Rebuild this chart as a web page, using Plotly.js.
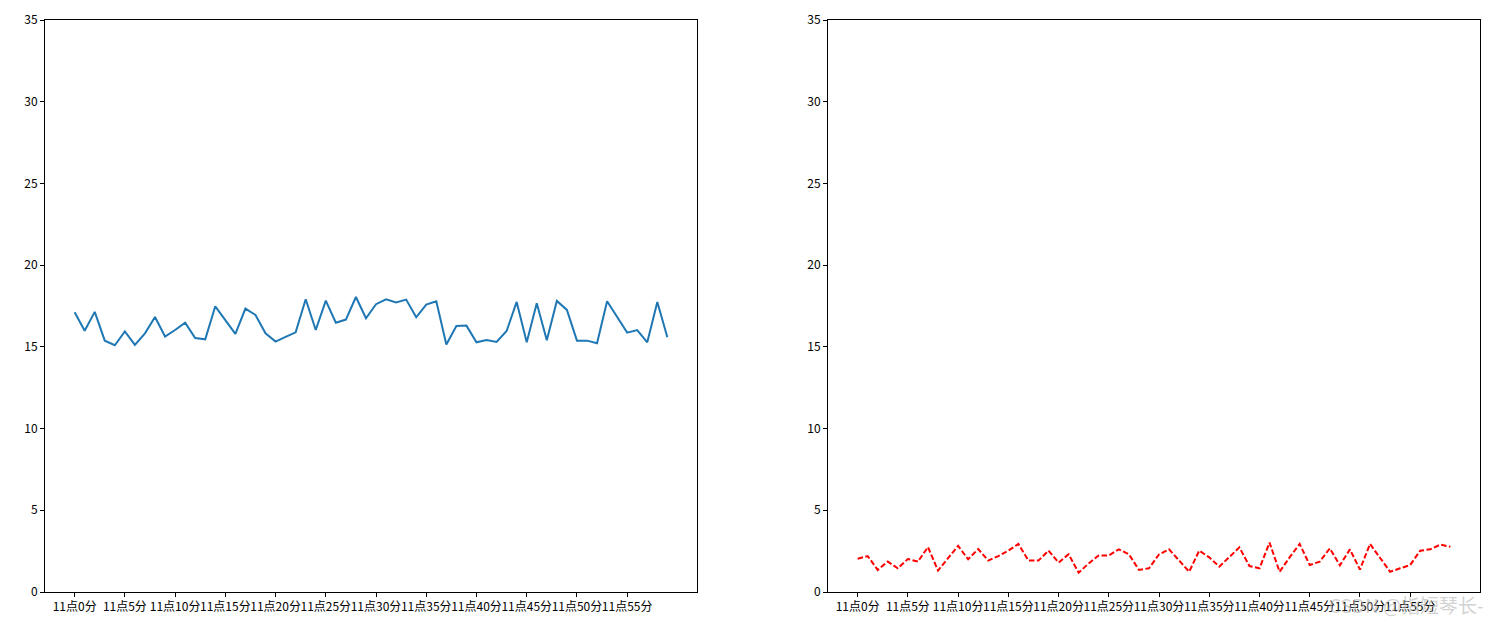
<!DOCTYPE html>
<html>
<head>
<meta charset="utf-8">
<script src="https://cdn.plot.ly/plotly-3.0.1.min.js"></script>
<style>html,body{margin:0;padding:0;background:#fff;}#chart{width:1499px;height:622px;}</style>
</head>
<body>
<div id="chart"></div>
<script>
// minute index 0..59 (11点0分 ... 11点59分)
const minutes = [0,1,2,3,4,5,6,7,8,9,10,11,12,13,14,15,16,17,18,19,20,21,22,23,24,25,26,27,28,29,
                 30,31,32,33,34,35,36,37,38,39,40,41,42,43,44,45,46,47,48,49,50,51,52,53,54,55,56,57,58,59];
const tickVals = [0,5,10,15,20,25,30,35,40,45,50,55];
const tickLabels = ["11点0分","11点5分","11点10分","11点15分","11点20分","11点25分","11点30分","11点35分","11点40分","11点45分","11点50分","11点55分"];
const seriesA = [17.12,15.99,17.14,15.38,15.10,15.95,15.12,15.83,16.83,15.63,
                 16.03,16.48,15.54,15.46,17.48,16.61,15.79,17.34,16.95,15.83,
                 15.32,15.61,15.89,17.91,16.03,17.83,16.48,16.67,18.05,16.75,
                 17.61,17.91,17.71,17.89,16.81,17.59,17.79,15.14,16.28,16.30,
                 15.28,15.42,15.30,15.97,17.75,15.28,17.67,15.40,17.81,17.26,
                 15.38,15.38,15.22,17.79,16.79,15.87,16.03,15.28,17.75,15.59];
const seriesB = [2.04,2.20,1.35,1.86,1.45,2.02,1.86,2.75,1.31,2.07,
                 2.82,2.00,2.63,1.92,2.20,2.53,2.94,1.92,1.92,2.53,
                 1.80,2.31,1.18,1.75,2.24,2.24,2.61,2.31,1.35,1.45,
                 2.30,2.61,1.92,1.24,2.53,2.12,1.55,2.12,2.73,1.59,
                 1.45,3.02,1.24,2.12,2.94,1.65,1.86,2.67,1.63,2.61,
                 1.37,2.94,2.10,1.24,1.45,1.65,2.53,2.61,2.90,2.77];
const yTicks = [0,5,10,15,20,25,30,35];

const font = {family: '"Noto Sans CJK SC", "DejaVu Sans", sans-serif', size: 12, color: '#000'};

const traces = [
  {x: minutes, y: seriesA, type: 'scatter', mode: 'lines', xaxis: 'x', yaxis: 'y',
   line: {color: '#1f77b4', width: 2}, hoverinfo: 'none'},
  {x: minutes, y: seriesB, type: 'scatter', mode: 'lines', xaxis: 'x2', yaxis: 'y2',
   line: {color: '#ff0000', width: 2, dash: '5.5px,2.4px'}, hoverinfo: 'none'}
];

function xax(domain, anchor) {
  return {domain: domain, anchor: anchor, range: [-2.95, 61.95], tickmode: 'array',
    tickvals: tickVals, ticktext: tickLabels, ticks: 'outside', ticklen: 4, tickcolor: '#000',
    showline: true, mirror: true, linecolor: '#000', linewidth: 1, showgrid: false,
    zeroline: false, automargin: false, tickfont: font, tickangle: 0};
}
function yax(anchor) {
  return {domain: [0, 1], anchor: anchor, range: [0, 35], tickmode: 'array',
    tickvals: yTicks, ticks: 'outside', ticklen: 4, tickcolor: '#000',
    showline: true, mirror: true, linecolor: '#000', linewidth: 1, showgrid: false,
    zeroline: false, automargin: false, tickfont: font};
}

const layout = {
  width: 1499, height: 622,
  margin: {l: 0, r: 0, t: 20, b: 30},
  paper_bgcolor: '#fff', plot_bgcolor: '#fff',
  showlegend: false,
  font: font,
  xaxis: xax([45/1499, 697/1499], 'y'),
  yaxis: yax('x'),
  xaxis2: xax([828/1499, 1480/1499], 'y2'),
  yaxis2: yax('x2'),
  annotations: [{
    text: 'CSDN @指短琴长-', xref: 'paper', yref: 'paper',
    x: 1486/1499, y: -12/572, xanchor: 'right', yanchor: 'middle',
    showarrow: false, font: {family: '"Noto Sans CJK SC", sans-serif', size: 19, color: 'rgba(180,180,180,0.6)'}
  }]
};

Plotly.newPlot('chart', traces, layout, {staticPlot: true, displayModeBar: false});
</script>
</body>
</html>
